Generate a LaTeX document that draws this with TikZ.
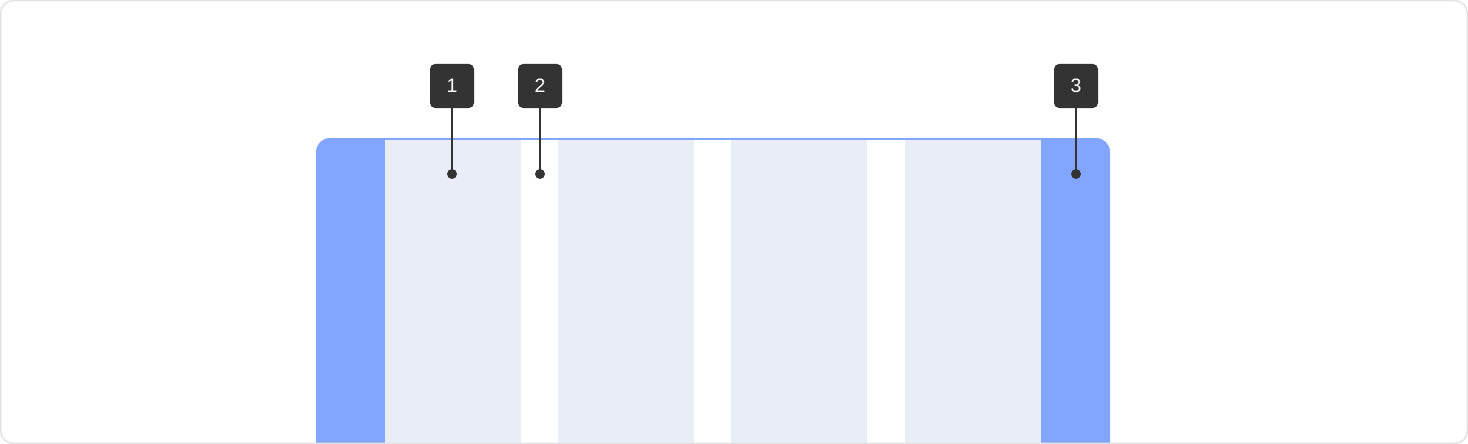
\documentclass[tikz,border=0pt]{standalone}
\usepackage{fontspec}
\setmainfont{Liberation Sans}
\definecolor{framecol}{HTML}{82A6FF}
\definecolor{colcol}{HTML}{E8EDF6}
\definecolor{badgecol}{HTML}{333333}
\definecolor{edgecol}{HTML}{E3E3E3}
\begin{document}
\begin{tikzpicture}[x=1pt,y=-1pt,
  badge/.style={fill=badgecol,text=white,rounded corners=5pt,minimum size=44pt,
    inner sep=0pt,font=\fontsize{19.5}{22}\selectfont},
  pin/.style={badgecol,line width=2pt}]

\useasboundingbox (0,0) rectangle (1468,444);

\begin{scope}
\clip[rounded corners=12pt] (0.75,0.75) rectangle (1467.25,443.25);

% frame and margins
\fill[framecol,rounded corners=14pt] (316,138) rectangle (1110,480);
\fill[white] (385,140) rectangle (1041,444);

% columns
\foreach \i/\x in {1/385,2/558,3/731,4/905}
{
  \fill[colcol] (\x,140) rectangle +(136,304);
}
\end{scope}

\draw[edgecol,line width=1.5pt,rounded corners=12pt] (0.75,0.75) rectangle (1467.25,443.25);

\coordinate (D1) at (452,174);
\coordinate (D2) at (540,174);
\coordinate (D3) at (1076,174);

\node[badge] (B1) at (452,86) {1};
\node[badge] (B2) at (540,86) {2};
\node[badge] (B3) at (1076,86) {3};

\foreach \i in {1,2,3}
{
  \draw[pin] (B\i.south) -- (D\i);
  \fill[badgecol] (D\i) circle (5pt);
}

\end{tikzpicture}
\end{document}
